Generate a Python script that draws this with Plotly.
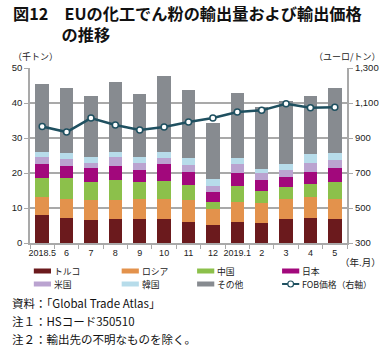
import plotly.graph_objects as go

categories = ["2018.5", "6", "7", "8", "9", "10", "11", "12", "2019.1", "2", "3", "4", "5"]

turkey = [8.1, 7.2, 6.7, 7.0, 7.0, 7.0, 6.1, 5.1, 6.1, 5.7, 7.0, 7.2, 7.0]
russia = [5.0, 5.4, 5.7, 5.4, 5.7, 5.6, 6.3, 4.6, 5.7, 5.7, 5.6, 5.9, 5.6]
china = [5.6, 5.9, 5.1, 5.5, 4.8, 5.1, 4.3, 2.1, 4.4, 3.6, 3.4, 3.8, 4.7]
japan = [4.0, 3.6, 3.8, 4.0, 3.5, 4.8, 3.7, 2.8, 3.7, 3.1, 3.0, 3.3, 4.0]
usa = [1.9, 1.9, 1.7, 2.7, 1.9, 1.9, 1.9, 1.8, 2.6, 1.9, 2.0, 2.8, 2.3]
korea = [1.5, 1.6, 1.7, 1.5, 1.8, 1.5, 2.1, 2.0, 1.8, 1.1, 1.7, 2.5, 2.1]
other = [19.3, 18.7, 17.4, 19.8, 17.8, 21.9, 19.4, 15.9, 18.7, 17.8, 18.0, 16.4, 18.6]
fob_price = [966, 934, 1014, 974, 946, 963, 991, 1014, 1049, 1058, 1096, 1073, 1075]

series_names = ["トルコ", "ロシア", "中国", "日本", "米国", "韓国", "その他"]
line_name = "FOB価格（右軸）"

COLORS = ["#6b1a1d", "#e3924c", "#8cc04b", "#a2087c", "#baa3d0", "#b7dcea", "#878b90"]
LINE_COLOR = "#1f5060"
FONT = "Arial, 'Liberation Sans', 'Noto Sans CJK JP', sans-serif"
JP = "'Noto Sans CJK JP', sans-serif"
GRID = "#a9a9a9"

W, H = 391, 349
PX0, PX1, PYT, PYB = 21, 353, 68, 243


def px(x):
    return (x - PX0) / (PX1 - PX0)


def py(y):
    return (PYB - y) / (PYB - PYT)


fig = go.Figure()
for name, vals, col in zip(series_names, [turkey, russia, china, japan, usa, korea, other], COLORS):
    fig.add_trace(go.Bar(x=categories, y=vals, name=name, marker=dict(color=col, line=dict(width=0)),
                         showlegend=False))

fig.add_trace(go.Scatter(x=categories, y=fob_price, name=line_name, yaxis="y2", mode="lines+markers",
                         line=dict(color=LINE_COLOR, width=2.5),
                         marker=dict(symbol="circle", size=6, color="white",
                                     line=dict(color=LINE_COLOR, width=1.5)),
                         showlegend=False))

annotations = []
shapes = []

# Title (two lines, second line indented to align with "EU")
annotations.append(dict(text="<b>図12　EUの化工でん粉の輸出量および輸出価格<br>　　　の推移</b>",
                        x=px(2), y=py(0), xref="paper", yref="paper", xanchor="left", yanchor="top",
                        align="left", showarrow=False, borderpad=0,
                        font=dict(family=JP, size=16.2, color="#111")))
# Units
annotations.append(dict(text="（千トン）", x=px(1), y=py(57), xref="paper", yref="paper",
                        xanchor="left", yanchor="middle", showarrow=False,
                        font=dict(family=JP, size=9, color="#222")))
annotations.append(dict(text="（ユーロ/トン）", x=px(391), y=py(57), xref="paper", yref="paper",
                        xanchor="right", yanchor="middle", showarrow=False,
                        font=dict(family=JP, size=9, color="#222")))
annotations.append(dict(text="（年.月）", x=px(391), y=py(262), xref="paper", yref="paper",
                        xanchor="right", yanchor="middle", showarrow=False,
                        font=dict(family=JP, size=9.5, color="#222")))

# Manual legend (compact, two rows of four)
col_x = [25, 117, 196, 285]
row_y = [271, 284]
legend_items = list(zip(series_names, COLORS)) + [(line_name, None)]
for i, (name, col) in enumerate(legend_items):
    r, c = divmod(i, 4)
    x0 = col_x[c]
    yc = row_y[r]
    if col is not None:
        shapes.append(dict(type="rect", xref="paper", yref="paper", x0=px(x0), x1=px(x0 + 18),
                           y0=py(yc + 2.5), y1=py(yc - 2.5), fillcolor=col, line=dict(width=0)))
    else:
        shapes.append(dict(type="line", xref="paper", yref="paper", x0=px(x0), x1=px(x0 + 18),
                           y0=py(yc), y1=py(yc), line=dict(color=LINE_COLOR, width=2)))
        shapes.append(dict(type="circle", xref="paper", yref="paper", x0=px(x0 + 6), x1=px(x0 + 12),
                           y0=py(yc + 3), y1=py(yc - 3), fillcolor="white",
                           line=dict(color=LINE_COLOR, width=1.2)))
    annotations.append(dict(text=name, x=px(x0 + 19), y=py(yc), xref="paper", yref="paper",
                            xanchor="left", yanchor="middle", showarrow=False,
                            font=dict(family=JP, size=8.8, color="#222")))

# Footnotes
notes = ["資料：「Global Trade Atlas」", "注１：HSコード350510", "注２：輸出先の不明なものを除く。"]
for t, yy in zip(notes, [303, 321, 339]):
    annotations.append(dict(text=t, x=px(0), y=py(yy), xref="paper", yref="paper",
                            xanchor="left", yanchor="middle", showarrow=False,
                            font=dict(family=JP, size=11.5, color="#111")))

fig.update_layout(
    width=W, height=H,
    margin=dict(l=PX0, r=W - PX1, t=PYT, b=H - PYB, pad=0),
    paper_bgcolor="white", plot_bgcolor="white",
    barmode="stack", bargap=0.45,
    font=dict(family=FONT, size=9.5, color="#222"),
    showlegend=False,
    xaxis=dict(type="category", range=[-0.5, 12.5], showline=True, linecolor=GRID, linewidth=1.5,
               ticks="outside", tickson="boundaries", ticklen=4, tickcolor=GRID, tickwidth=1,
               showgrid=False, tickangle=0, tickfont=dict(size=9)),
    yaxis=dict(range=[0, 50], dtick=10, showgrid=True, gridcolor=GRID, gridwidth=1.5,
               showline=True, linecolor=GRID, linewidth=1.5, ticks="outside", ticklen=4,
               tickcolor=GRID, zeroline=False, tickfont=dict(size=9.5)),
    yaxis2=dict(range=[300, 1300], tick0=300, dtick=200, overlaying="y", side="right", showgrid=False,
                showline=True, linecolor=GRID, linewidth=2, ticks="outside", ticklen=4,
                tickcolor=GRID, tickformat=",", zeroline=False, tickfont=dict(size=9.5)),
    annotations=annotations,
    shapes=shapes,
)

fig.write_html("out.html")
